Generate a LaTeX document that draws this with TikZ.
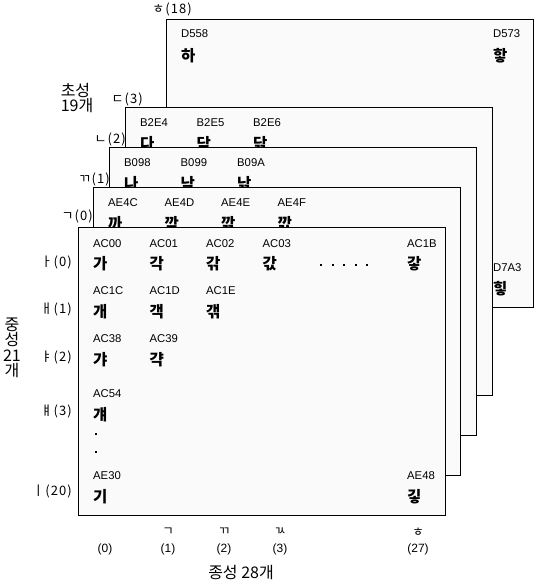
\documentclass[tikz,border=0pt]{standalone}
\usepackage{fontspec}
\setmainfont{Liberation Sans}
\newfontfamily\kr{Noto Sans CJK KR}
\newfontfamily\jamofont[LetterSpace=8]{Noto Sans CJK KR}
\usetikzlibrary{calc}

\begin{document}
\begin{tikzpicture}[x=1pt,y=-1pt,
  layer/.style={draw,fill=white!98!black,line width=1pt,minimum width=367pt,minimum height=288pt,anchor=north west,inner sep=0pt,outer sep=0pt},
  code/.style={anchor=base west,inner sep=0pt,font=\fontsize{11.3}{12}\selectfont},
  syl/.style={anchor=base west,inner sep=0pt,font=\kr\bfseries\fontsize{15.5}{16}\selectfont},
  jamo/.style={anchor=east,inner sep=0pt,font=\jamofont\fontsize{13}{13}\selectfont},
  countlbl/.style={inner sep=0pt,align=left,font=\kr\fontsize{16}{15.5}\selectfont}]
\useasboundingbox (0,0) rectangle (539,581);

% choseong 18 (ㅎ)
\node[layer] (L18) at (166,19) {};
\node[code] (c18a) at ($(L18.north west)+(15,18)$) {D558};
\node[syl] (s18a) at ($(L18.north west)+(15,42)$) {하};
\node[code] (c18b) at ($(L18.north west)+(327,18)$) {D573};
\node[syl] (s18b) at ($(L18.north west)+(327,42)$) {핳};
\node[code] (c18c) at ($(L18.north west)+(327,252)$) {D7A3};
\node[syl] (s18c) at ($(L18.north west)+(327,275)$) {힣};

% choseong 3 (ㄷ)
\node[layer] (L3) at (125,107) {};
\foreach \cd/\sy [count=\k from 0] in {B2E4/다,B2E5/닥,B2E6/닦} {
  \node[code] (c3\k) at ($(L3.north west)+(15+56.5*\k,19)$) {\cd};
  \node[syl] (s3\k) at ($(L3.north west)+(15+56.5*\k,42)$) {\sy};
}

% choseong 2 (ㄴ)
\node[layer] (L2) at (109,147) {};
\foreach \cd/\sy [count=\k from 0] in {B098/나,B099/낙,B09A/낚} {
  \node[code] (c2\k) at ($(L2.north west)+(15+56.5*\k,19)$) {\cd};
  \node[syl] (s2\k) at ($(L2.north west)+(15+56.5*\k,42)$) {\sy};
}

% choseong 1 (ㄲ)
\node[layer] (L1) at (93,187) {};
\foreach \cd/\sy [count=\k from 0] in {AE4C/까,AE4D/깍,AE4E/깎,AE4F/깏} {
  \node[code] (c1\k) at ($(L1.north west)+(15+56.5*\k,19)$) {\cd};
  \node[syl] (s1\k) at ($(L1.north west)+(15+56.5*\k,42)$) {\sy};
}

% choseong 0 (ㄱ), front page
\node[layer] (L0) at (78,227) {};
\foreach \cd/\sy [count=\k from 0] in {AC00/가,AC01/각,AC02/갂,AC03/갃} {
  \node[code] (c0\k) at ($(L0.north west)+(15+56.5*\k,20)$) {\cd};
  \node[syl] (s0\k) at ($(L0.north west)+(15+56.5*\k,42)$) {\sy};
}
\node[code] (c0z) at ($(L0.north west)+(329,20)$) {AC1B};
\node[syl] (s0z) at ($(L0.north west)+(329,42)$) {갛};
\foreach \k in {0,...,4}
  \fill ($(L0.north west)+(242+11.6*\k,37)$) rectangle +(2,2);
\foreach \cd/\sy [count=\k from 0] in {AC1C/개,AC1D/객,AC1E/갞} {
  \node[code] (d0\k) at ($(L0.north west)+(15+56.5*\k,67)$) {\cd};
  \node[syl] (t0\k) at ($(L0.north west)+(15+56.5*\k,90)$) {\sy};
}
\foreach \cd/\sy [count=\k from 0] in {AC38/갸,AC39/갹} {
  \node[code] (e0\k) at ($(L0.north west)+(15+56.5*\k,115)$) {\cd};
  \node[syl] (u0\k) at ($(L0.north west)+(15+56.5*\k,138)$) {\sy};
}
\node[code] (f00) at ($(L0.north west)+(15,170)$) {AC54};
\node[syl] (v00) at ($(L0.north west)+(15,193)$) {걔};
\fill ($(L0.north west)+(17,206)$) rectangle +(2,2);
\fill ($(L0.north west)+(17,224)$) rectangle +(2,2);
\node[code] (g00) at ($(L0.north west)+(15,252)$) {AE30};
\node[syl] (w00) at ($(L0.north west)+(15,275)$) {기};
\node[code] (g0z) at ($(L0.north west)+(329,252)$) {AE48};
\node[syl] (w0z) at ($(L0.north west)+(329,275)$) {깋};

% initial consonants
\node[jamo,anchor=center] (i18) at (172,9.5) {ㅎ(18)};
\node[jamo] (i3) at (143,99) {ㄷ(3)};
\node[jamo] (i2) at (126,139) {ㄴ(2)};
\node[jamo] (i1) at (110,179) {ㄲ(1)};
\node[jamo] (i0) at (93,216) {ㄱ(0)};
\node[countlbl] (cho) at (77,98) {초성\\19개};

% medial vowels
\node[jamo] (m0) at (72,262) {ㅏ(0)};
\node[jamo] (m1) at (72,309) {ㅐ(1)};
\node[jamo] (m2) at (72,357) {ㅑ(2)};
\node[jamo] (m3) at (72,411) {ㅒ(3)};
\node[jamo] (m20) at (72,491) {ㅣ(20)};
\node[countlbl,align=center] (jung) at (12,348) {중\\성\\21\\개};

% final consonants
\foreach \x/\j/\n in {105//0,168/ㄱ/1,224/ㄲ/2,280/ㄳ/3,418/ㅎ/27} {
  \node[jamo,anchor=center,font=\kr\fontsize{12.5}{12.5}\selectfont] (f\n) at (\x,532) {\j};
  \node[inner sep=0pt,font=\fontsize{12}{12}\selectfont] (n\n) at (\x,549) {(\n)};
}
\node[countlbl] (jong) at (241,572.5) {종성 28개};
\end{tikzpicture}
\end{document}
